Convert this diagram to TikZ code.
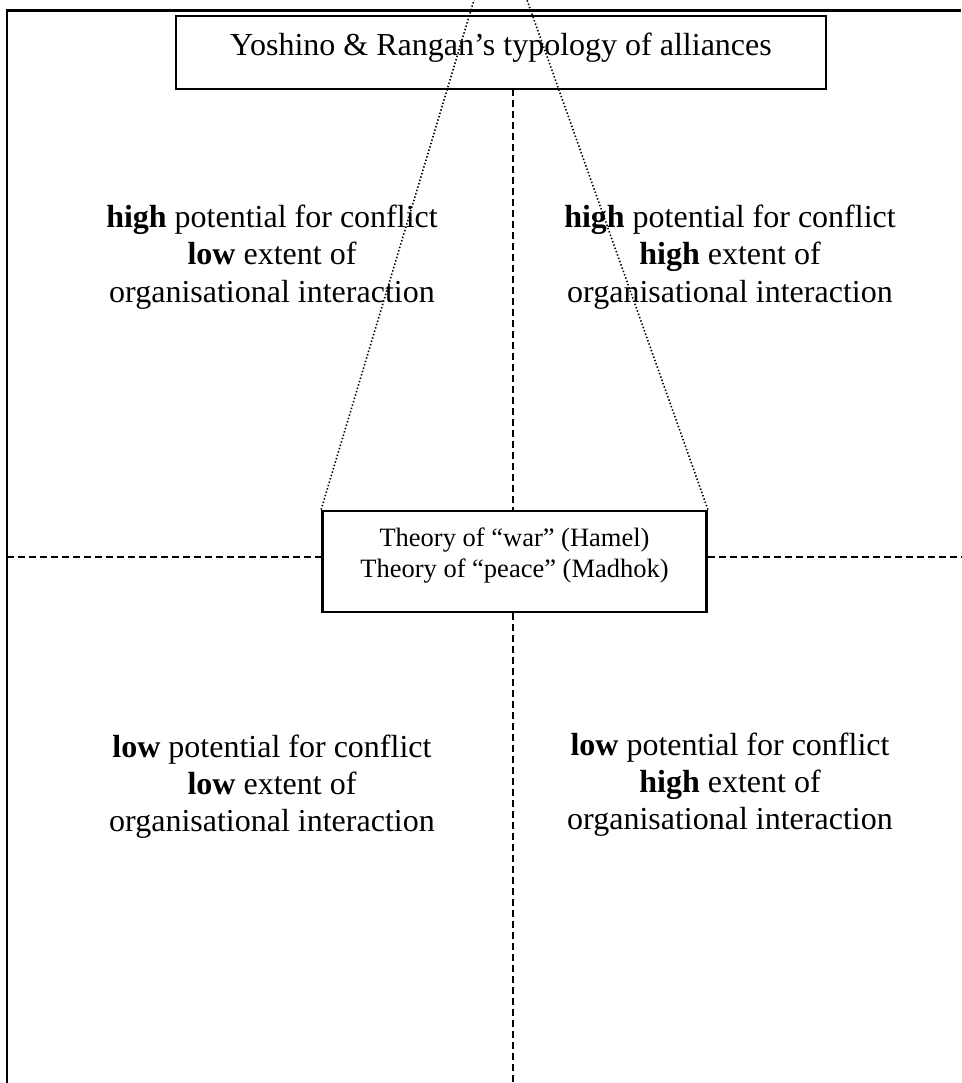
\documentclass[tikz,border=0pt]{standalone}
\usepackage{fontspec}
\setmainfont{Liberation Serif}
\begin{document}
\begin{tikzpicture}[x=1pt,y=-1pt,
  frameline/.style={line width=2.4pt},
  boxstyle/.style={draw, line width=2.8pt, inner sep=0pt},
  dashline/.style={line width=2.1pt, dash pattern=on 7pt off 4pt},
  dotline/.style={line width=1.6pt, dash pattern=on 1.4pt off 2.1pt},
  quad/.style={font=\fontsize{32}{37}\selectfont, inner sep=0pt, anchor=base},
  titletext/.style={font=\fontsize{32}{37}\selectfont, inner sep=0pt, anchor=base},
  midtext/.style={font=\fontsize{26.5}{31}\selectfont, inner sep=0pt, anchor=base},
]
\useasboundingbox (0,0) rectangle (961,1083);

% outer frame
\coordinate (fr) at (961,10.5);
\coordinate (fc) at (7,10.5);
\coordinate (fb) at (7,1083);
\draw[frameline] (fr) -- (fc) -- (fb);

% title box
\node[boxstyle, minimum width=650pt, minimum height=73pt] (tbox) at (501,52.5) {};
\node[titletext] (ttext) at (501,56) {Yoshino \& Rangan’s typology of alliances};

% middle box
\node[boxstyle, minimum width=384pt, minimum height=101pt] (mbox) at (514.5,561.5) {};
\node[midtext] (mtext1) at (514.5,546) {Theory of “war” (Hamel)};
\node[midtext] (mtext2) at (514.5,577) {Theory of “peace” (Madhok)};

% dashed axes
\coordinate (vtop) at (513,89);
\coordinate (vbot) at (513,1083);
\coordinate (hl) at (7,557);
\coordinate (hr) at (961,557);
\draw[dashline] (vtop) -- (vtop |- mbox.north);
\draw[dashline] (vbot |- mbox.south) -- (vbot);
\draw[dashline] (hl) -- (hl -| mbox.west);
\draw[dashline] (mbox.east |- hr) -- (hr);

% dotted lines
\coordinate (dl) at (474,0);
\coordinate (dr) at (527,0);
\draw[dotline] (mbox.north west) -- (dl);
\draw[dotline] (mbox.north east) -- (dr);

% quadrant texts
\node[quad] (tl1) at (272,228) {\textbf{high} potential for conflict};
\node[quad] (tl2) at (272,265) {\textbf{low} extent of};
\node[quad] (tl3) at (272,302) {organisational interaction};

\node[quad] (tr1) at (730,228) {\textbf{high} potential for conflict};
\node[quad] (tr2) at (730,265) {\textbf{high} extent of};
\node[quad] (tr3) at (730,302) {organisational interaction};

\node[quad] (bl1) at (272,757) {\textbf{low} potential for conflict};
\node[quad] (bl2) at (272,794) {\textbf{low} extent of};
\node[quad] (bl3) at (272,831) {organisational interaction};

\node[quad] (br1) at (730,755) {\textbf{low} potential for conflict};
\node[quad] (br2) at (730,792) {\textbf{high} extent of};
\node[quad] (br3) at (730,829) {organisational interaction};
\end{tikzpicture}
\end{document}
